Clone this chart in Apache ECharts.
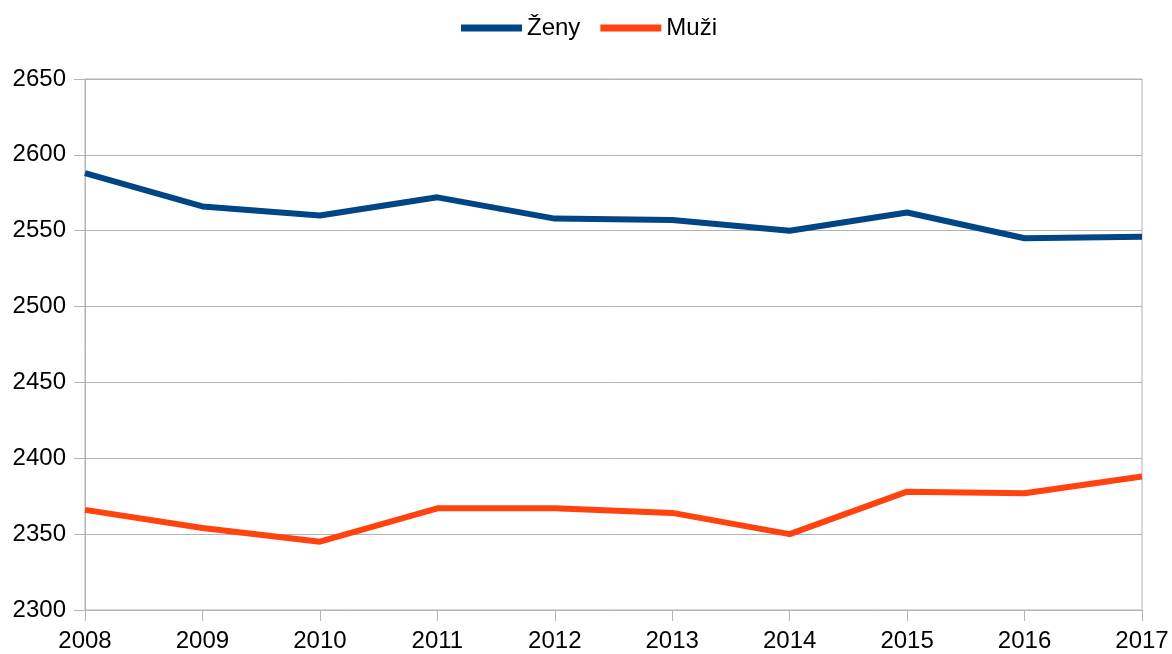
<!DOCTYPE html>
<html>
<head>
<meta charset="utf-8">
<script src="https://cdn.jsdelivr.net/npm/echarts@6/dist/echarts.min.js"></script>
<style>
  html, body { margin: 0; padding: 0; background: #fff; }
  #chart { width: 1172px; height: 654px; }
</style>
</head>
<body>
<div id="chart"></div>
<script>
// data
var years = ["2008", "2009", "2010", "2011", "2012", "2013", "2014", "2015", "2016", "2017"];
var zeny = [2588, 2566, 2560, 2572, 2558, 2557, 2550, 2562, 2545, 2546];
var muzi = [2366, 2354, 2345, 2367, 2367, 2364, 2350, 2378, 2377, 2388];

var font = "Liberation Sans";
var gray = "#b3b3b3";

var myChart = echarts.init(document.getElementById("chart"));

var option = {
  animation: false,
  textStyle: { fontFamily: font, color: "#000" },
  legend: {
    top: 11,
    left: 456,
    icon: "rect",
    itemWidth: 61,
    itemHeight: 7,
    itemGap: 20,
    textStyle: { fontFamily: font, fontSize: 24, color: "#000" },
    data: ["Ženy", "Muži"],
  },
  grid: {
    left: 85,
    right: 30,
    top: 79,
    bottom: 44,
    show: true,
    borderColor: gray,
    borderWidth: 1,
    containLabel: false,
  },
  xAxis: {
    type: "category",
    boundaryGap: false,
    data: years,
    axisLine: { lineStyle: { color: gray, width: 1 } },
    axisTick: { show: true, length: 11, lineStyle: { color: gray } },
    axisLabel: { fontSize: 24, color: "#000", margin: 19, fontFamily: font },
    splitLine: { show: false },
  },
  yAxis: {
    type: "value",
    min: 2300,
    max: 2650,
    interval: 50,
    axisLine: { show: true, lineStyle: { color: gray, width: 1 } },
    axisTick: { show: true, length: 11, lineStyle: { color: gray } },
    axisLabel: {
      fontSize: 24,
      color: "#000",
      margin: 19,
      fontFamily: font,
      formatter: function (v) { return String(v); },
    },
    splitLine: { show: true, lineStyle: { color: gray, width: 1 } },
  },
  series: [
    {
      name: "Ženy",
      type: "line",
      data: zeny,
      symbol: "none",
      color: "#004586",
      lineStyle: { width: 6, color: "#004586" },
    },
    {
      name: "Muži",
      type: "line",
      data: muzi,
      symbol: "none",
      color: "#ff420e",
      lineStyle: { width: 6, color: "#ff420e" },
    },
  ],
};

myChart.setOption(option);
</script>
</body>
</html>
